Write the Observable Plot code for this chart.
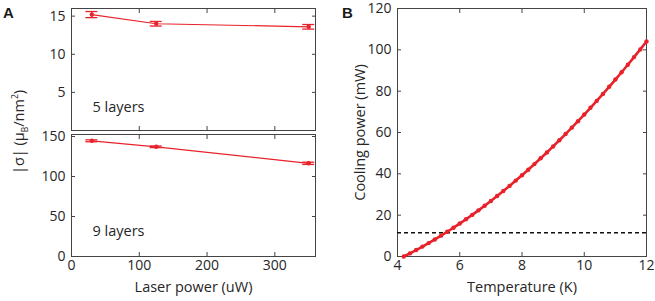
<!DOCTYPE html>
<html><head><meta charset="utf-8">
<script src="https://cdn.jsdelivr.net/npm/d3@7"></script>
<script src="https://cdn.jsdelivr.net/npm/@observablehq/plot@0.6"></script>
<style>
body{margin:0;background:#fff;}
#wrap{position:relative;width:655px;height:301px;font-family:"Open Sans",sans-serif;color:#262626;overflow:hidden;}
.panel{position:absolute;}
.lbl{position:absolute;font-family:"Liberation Sans",Arial,sans-serif;font-weight:bold;font-size:15px;color:#1a1a1a;line-height:1;}
#ylabA{position:absolute;left:20px;top:132px;transform:translate(-50%,-50%) rotate(-90deg);white-space:nowrap;font-size:14.5px;line-height:1;}
#ylabA sub,#ylabA sup{font-size:8.5px;}
</style></head>
<body>
<div id="wrap">
  <div class="panel" id="pA1" style="left:0;top:0"></div>
  <div class="panel" id="pA2" style="left:0;top:132px"></div>
  <div class="panel" id="pB" style="left:330px;top:0"></div>
  <div class="lbl" style="left:3px;top:5px">A</div>
  <div class="lbl" style="left:342px;top:5px">B</div>
  <div id="ylabA">|σ| (μ<sub>B</sub>/nm<sup>2</sup>)</div>
</div>
<script>
// ---- data ----
const laserPower = [30, 125, 350];
const sigma5 = [15.2, 14.0, 13.6];
const sigma5Err = [0.4, 0.3, 0.3];
const sigma9 = [144.6, 137.1, 116.5];
const sigma9Err = [1.2, 1.0, 1.4];
const layerLabel5 = ["5 layers"];
const layerLabel9 = ["9 layers"];
const xTicksA = [0, 100, 200, 300];
const yTicks5 = [5, 10, 15];
const yTicks9 = [0, 50, 100, 150];

const temperature = [4.2,4.4,4.6,4.8,5.0,5.2,5.4,5.6,5.8,6.0,6.2,6.4,6.6,6.8,7.0,7.2,7.4,7.6,7.8,8.0,
  8.2,8.4,8.6,8.8,9.0,9.2,9.4,9.6,9.8,10.0,10.2,10.4,10.6,10.8,11.0,11.2,11.4,11.6,11.8,12.0];
const coolingPower = [0,1.53,3.12,4.78,6.49,8.26,10.09,11.98,13.93,15.94,18.01,20.14,22.33,24.58,26.89,29.25,
  31.68,34.17,36.72,39.33,41.99,44.72,47.51,50.35,53.26,56.23,59.25,62.34,65.48,68.69,71.95,75.28,78.66,
  82.11,85.61,89.17,92.80,96.48,100.22,104.03];
const thresholdPower = [11.5];
const xTicksB = [4, 6, 8, 10, 12];
const yTicksB = [0, 20, 40, 60, 80, 100, 120];

// ---- tables ----
const red = "#e8222b";
const axisColor = "#444";
const textColor = "#262626";
const fs = 14.5;
const tfs = 14;
const dataA5 = laserPower.map((p, i) => ({p, s: sigma5[i], e: sigma5Err[i]}));
const dataA9 = laserPower.map((p, i) => ({p, s: sigma9[i], e: sigma9Err[i]}));
const dataB = temperature.map((t, i) => ({t, c: coolingPower[i]}));

const baseStyle = {fontFamily: "'Open Sans', sans-serif", fontSize: tfs + "px", color: textColor, background: "transparent", overflow: "visible"};
const blank = () => "";

function panelA(data, yDomain, yTicks, label, opts) {
  return Plot.plot({
    width: 330, height: opts.height, marginLeft: 71, marginRight: 15,
    marginTop: opts.mt, marginBottom: opts.mb,
    style: baseStyle,
    x: {domain: [0, 360]},
    y: {domain: yDomain},
    marks: [
      Plot.frame({stroke: axisColor}),
      Plot.axisX({anchor: "bottom", ticks: xTicksA, tickSize: -4, tickPadding: 8, stroke: axisColor,
        tickFormat: opts.showX ? d => d : blank, label: null}),
      Plot.axisX({anchor: "top", ticks: xTicksA, tickSize: -4, tickFormat: blank, label: null, stroke: axisColor}),
      Plot.axisY({anchor: "left", ticks: yTicks, tickSize: -4, tickPadding: 10, label: null, stroke: axisColor}),
      Plot.axisY({anchor: "right", ticks: yTicks, tickSize: -4, tickFormat: blank, label: null, stroke: axisColor}),
      Plot.line(data, {x: "p", y: "s", stroke: red, strokeWidth: 1.2}),
      Plot.ruleX(data, {x: "p", y1: d => d.s - d.e, y2: d => d.s + d.e, stroke: red, strokeWidth: 1.3}),
      Plot.ruleY(data, {x1: "p", x2: "p", y: d => d.s - d.e, insetLeft: -6, insetRight: -6, stroke: red, strokeWidth: 1.3}),
      Plot.ruleY(data, {x1: "p", x2: "p", y: d => d.s + d.e, insetLeft: -6, insetRight: -6, stroke: red, strokeWidth: 1.3}),
      Plot.dot(data, {x: "p", y: "s", r: 2.2, fill: red}),
      Plot.text(label, {text: d => d, frameAnchor: "bottom-left", textAnchor: "start", lineAnchor: "middle", dx: 21, dy: opts.labelDy, fontSize: fs, fill: textColor}),
      ...(opts.showX ? [Plot.text(["Laser power (uW)"], {text: d => d, frameAnchor: "bottom", lineAnchor: "middle", dy: 31, fontSize: fs, fill: textColor})] : [])
    ]
  });
}

document.getElementById("pA1").append(panelA(dataA5, [0, 16], yTicks5, layerLabel5, {height: 132, mt: 8, mb: 2, showX: false, labelDy: -23}));
document.getElementById("pA2").append(panelA(dataA9, [0, 152.5], yTicks9, layerLabel9, {height: 169, mt: 2, mb: 45, showX: true, labelDy: -25}));

const chartB = Plot.plot({
  width: 325, height: 301, marginLeft: 67, marginRight: 9, marginTop: 8, marginBottom: 45,
  style: baseStyle,
  x: {domain: [4, 12]},
  y: {domain: [0, 120]},
  marks: [
    Plot.frame({stroke: axisColor}),
    Plot.axisX({anchor: "bottom", ticks: xTicksB, tickSize: -4, tickPadding: 8, label: null, stroke: axisColor}),
    Plot.axisX({anchor: "top", ticks: xTicksB, tickSize: -4, tickFormat: blank, label: null, stroke: axisColor}),
    Plot.axisY({anchor: "left", ticks: yTicksB, tickSize: -4, tickPadding: 10, label: null, stroke: axisColor}),
    Plot.axisY({anchor: "right", ticks: yTicksB, tickSize: -4, tickFormat: blank, label: null, stroke: axisColor}),
    Plot.ruleY(thresholdPower, {stroke: "#111", strokeWidth: 1.7, strokeDasharray: "4,3"}),
    Plot.line(dataB, {x: "t", y: "c", stroke: red, strokeWidth: 2.6}),
    Plot.dot(dataB, {x: "t", y: "c", r: 2.2, fill: red}),
    Plot.text(["Temperature (K)"], {text: d => d, frameAnchor: "bottom", lineAnchor: "middle", dy: 31, fontSize: fs, fill: textColor}),
    Plot.text(["Cooling power (mW)"], {text: d => d, frameAnchor: "left", textAnchor: "middle", lineAnchor: "middle", rotate: -90, dx: -37, fontSize: fs, fill: textColor})
  ]
});
document.getElementById("pB").append(chartB);
</script>
</body></html>
